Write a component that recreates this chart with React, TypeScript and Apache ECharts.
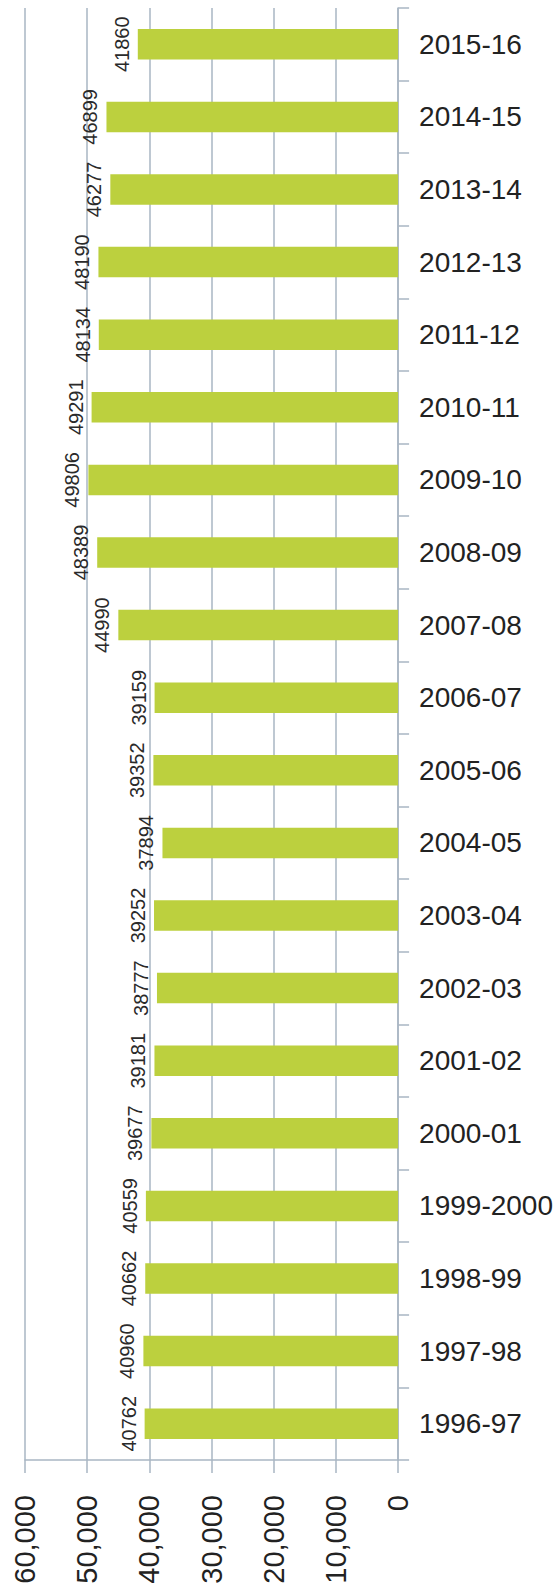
import React, { useEffect, useRef } from "react";
import * as echarts from "echarts";

// Categories bottom-to-top (ECharts category y axis starts at bottom)
const categories = [
  "1996-97", "1997-98", "1998-99", "1999-2000", "2000-01", "2001-02", "2002-03",
  "2003-04", "2004-05", "2005-06", "2006-07", "2007-08", "2008-09", "2009-10",
  "2010-11", "2011-12", "2012-13", "2013-14", "2014-15", "2015-16",
];
const values = [
  40762, 40960, 40662, 40559, 39677, 39181, 38777, 39252, 37894, 39352, 39159,
  44990, 48389, 49806, 49291, 48134, 48190, 46277, 46899, 41860,
];
const valueTicks = [0, 10000, 20000, 30000, 40000, 50000, 60000];

export default function App() {
  const ref = useRef<HTMLDivElement>(null);
  useEffect(() => {
    document.body.style.margin = "0";
    const chart = echarts.init(ref.current!, null, { renderer: "svg" });
    const axisColor = "#a9b6c3";
    chart.setOption({
      animation: false,
      backgroundColor: "#ffffff",
      grid: { left: 25, right: 155, top: 8, bottom: 130, containLabel: false },
      xAxis: {
        type: "value",
        inverse: true,
        position: "bottom",
        min: valueTicks[0],
        max: valueTicks[valueTicks.length - 1],
        interval: 10000,
        axisLine: { show: true, lineStyle: { color: axisColor, width: 1.5 } },
        axisTick: { show: true, length: 13, lineStyle: { color: axisColor, width: 1.5 } },
        splitLine: { show: true, lineStyle: { color: axisColor, width: 1.5 } },
        axisLabel: {
          rotate: 90,
          margin: 35,
          fontFamily: "Liberation Sans",
          fontSize: 29,
          color: "#222222",
          formatter: (v: number) => v.toLocaleString("en-US"),
        },
      },
      yAxis: {
        type: "category",
        position: "right",
        data: categories,
        axisLine: { show: true, lineStyle: { color: axisColor, width: 1.5 } },
        axisTick: { show: true, inside: false, length: 11, lineStyle: { color: axisColor, width: 1.5 } },
        axisLabel: {
          margin: 21,
          fontFamily: "Liberation Sans",
          fontSize: 28,
          color: "#222222",
        },
        splitLine: { show: false },
      },
      series: [
        {
          type: "bar",
          data: values,
          barWidth: "42%",
          itemStyle: { color: "#bcd03e" },
          label: {
            show: true,
            position: "left",
            rotate: 90,
            distance: 6,
            align: "center",
            verticalAlign: "bottom",
            fontFamily: "Liberation Sans",
            fontSize: 20,
            color: "#2a2a2a",
          },
        },
      ],
    });
    return () => chart.dispose();
  }, []);
  return <div ref={ref} style={{ width: 556, height: 1590 }} />;
}
